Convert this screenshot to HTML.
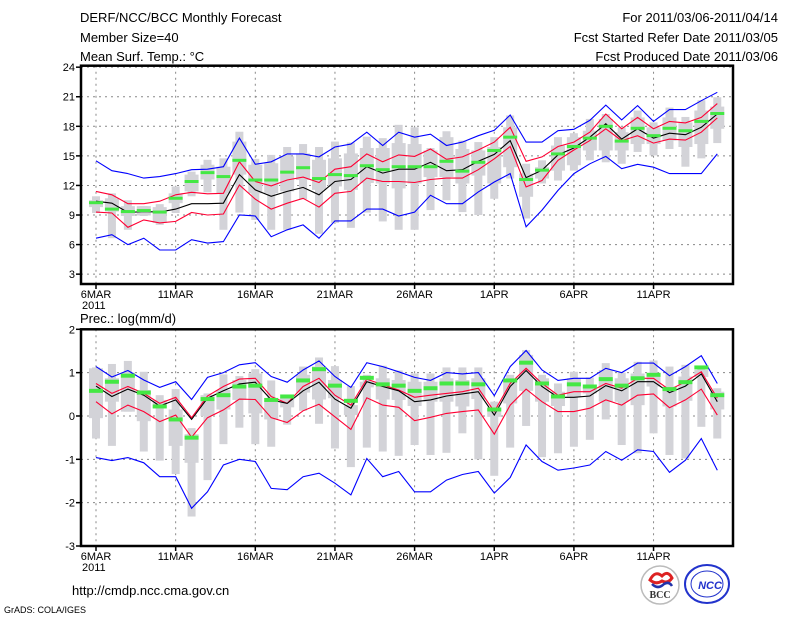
<!DOCTYPE html>
<html><head><meta charset="utf-8">
<style>
html,body{margin:0;padding:0;background:#fff;}
body{width:800px;height:618px;overflow:hidden;position:relative;font-family:"Liberation Mono","DejaVu Sans Mono",monospace;}
svg{position:absolute;left:0;top:0;}
</style></head>
<body>
<svg id="chart" width="800" height="618" viewBox="0 0 800 618">
  <g font-family="Liberation Sans, sans-serif" font-size="13" fill="#000">
    <text x="80" y="22">DERF/NCC/BCC Monthly Forecast</text>
    <text x="80" y="42">Member Size=40</text>
    <text x="80" y="61">Mean Surf. Temp.: °C</text>
    <text x="778" y="22" text-anchor="end">For 2011/03/06-2011/04/14</text>
    <text x="778" y="42" text-anchor="end">Fcst Started Refer Date 2011/03/05</text>
    <text x="778" y="61" text-anchor="end">Fcst Produced Date 2011/03/06</text>
    <text x="80" y="323">Prec.: log(mm/d)</text>
    <text x="72" y="595">http://cmdp.ncc.cma.gov.cn</text>
    <text x="4" y="613" font-size="9">GrADS: COLA/IGES</text>
  </g>
  <g id="temp-panel"></g>
  <g id="prec-panel"></g>
  <g>
    <circle cx="660" cy="585" r="19" fill="#fff" stroke="#bbb" stroke-width="1.5"/>
    <path d="M650 580 q5 -10 12 -4 q6 -6 10 2 q-4 6 -10 3 q-6 4 -12 -1z" fill="none" stroke="#d22" stroke-width="3"/>
    <path d="M652 584 q6 6 12 0 q5 -3 8 2" fill="none" stroke="#23a" stroke-width="2.5"/>
    <text x="660" y="598" font-family="Liberation Serif, serif" font-size="10" font-weight="bold" fill="#333" text-anchor="middle">BCC</text>
  </g>
  <g>
    <ellipse cx="707" cy="584" rx="22" ry="19" fill="#fff" stroke="#23c" stroke-width="2"/>
    <ellipse cx="707" cy="584" rx="16" ry="13" fill="none" stroke="#23c" stroke-width="1"/>
    <text x="710" y="589" font-family="Liberation Sans, sans-serif" font-size="11" font-style="italic" font-weight="bold" fill="#23c" text-anchor="middle">NCC</text>
  </g>
</svg>
<script>
// ---- Temperature data (°C), 40 days 6MAR..14APR ----
const tBlueHi = [14.5,13.5,13.2,12.75,12.9,13.2,13.6,13.65,13.9,16.8,14.15,14.4,15.2,15.2,14.9,15.9,16.2,17.4,16.05,17.4,16.9,17.2,16.05,16.4,17.05,17.6,19.15,16.4,16.4,17.55,17.7,18.6,20.15,18.65,20.1,18.5,19.7,19.7,20.6,21.45];
const tBlueLo = [6.65,7.0,6.0,6.65,5.45,5.45,6.5,6.15,6.3,9.0,8.9,6.8,7.5,8.0,6.65,8.4,8.4,9.6,9.6,8.9,9.3,11.0,10.15,10.15,11.35,12.35,13.2,7.8,9.5,11.5,13.2,14.2,14.95,13.7,14.15,13.85,13.2,13.2,13.2,15.2];
const tRedHi = [11.4,11.05,10.15,10.15,10.4,11.05,11.3,11.15,11.2,14.4,12.4,11.95,12.55,12.85,12.3,13.65,13.9,15.2,14.4,15.1,14.95,15.7,14.65,14.9,15.6,16.4,17.9,14.45,14.9,15.95,16.4,17.4,19.25,17.75,18.9,17.75,18.5,18.35,18.9,20.3];
const tRedLo = [9.3,9.2,7.75,8.5,8.2,8.35,9.25,9.0,9.1,12.05,10.6,9.6,10.2,10.7,9.8,11.2,11.4,12.75,12.4,12.4,12.3,12.6,12.75,12.75,13.6,14.7,15.95,11.85,12.5,14.55,15.6,16.55,17.75,16.55,17.05,16.3,16.7,16.6,17.4,18.85];
const tMean = [10.4,10.2,9.25,9.35,9.3,9.6,10.15,10.15,10.2,13.1,11.55,10.9,11.4,11.8,11.05,12.4,12.6,13.9,13.25,13.65,13.65,14.35,13.5,13.6,14.45,15.15,16.55,12.8,13.55,15.1,15.8,16.9,18.25,16.7,17.75,16.8,17.3,17.15,17.9,19.25];
const tMedian = [10.25,9.6,9.35,9.45,9.3,10.7,12.4,13.3,12.9,14.55,12.55,12.55,13.35,13.8,12.7,13.1,13.0,14.0,13.6,13.9,13.9,13.9,14.45,13.45,14.35,15.55,16.9,12.6,13.55,15.2,15.95,16.8,18.0,16.5,17.8,17.05,17.8,17.55,18.5,19.3];
const tMin = [9.2,6.65,7.5,8.9,8.0,9.2,10.9,11.3,7.5,9.25,8.5,7.5,7.5,10.6,7.1,8.2,7.7,9.25,8.35,7.5,7.5,9.5,10.5,9.3,9.0,10.65,12.7,8.65,12.2,12.5,13.5,14.55,14.35,14.2,15.4,15.05,15.7,13.9,14.75,16.3];
const tQ1 = [9.8,9.35,8.9,8.95,8.2,10.2,11.4,12.6,11.2,13.1,11.2,11.2,11.4,12.55,11.55,11.9,11.55,12.25,12.2,11.7,12.2,12.85,12.85,12.2,13.0,12.2,13.85,10.85,12.7,13.5,14.05,15.55,15.55,15.55,16.2,16.2,16.55,15.9,16.2,17.75];
const tQ3 = [10.5,10.7,9.9,9.9,9.8,11.2,13.1,14.1,13.9,16.45,14.1,14.25,14.95,15.25,14.6,14.75,15.25,15.8,15.8,16.3,16.2,15.55,16.9,15.7,15.55,15.9,17.9,13.2,13.85,16.05,16.9,17.55,18.75,17.4,18.9,17.9,18.9,18.4,19.6,20.0];
const tMax = [10.9,11.2,10.5,9.9,10.1,11.9,13.4,14.6,14.75,17.45,14.7,15.1,15.9,16.2,15.9,16.45,16.35,16.95,16.8,18.15,17.9,15.8,17.5,16.55,16.4,16.9,19.1,14.2,14.55,16.9,17.3,18.75,19.25,17.9,19.6,18.4,19.9,18.95,20.65,20.95];
const tTicks = [3,6,9,12,15,18,21,24];

// ---- Precipitation data log(mm/d) ----
const pBlueHi = [1.14,0.9,1.05,0.83,0.66,0.79,0.38,0.89,1.0,1.18,1.23,0.91,0.78,1.06,1.27,0.91,0.66,1.23,1.14,1.02,0.89,0.82,1.0,0.97,1.0,0.47,1.14,1.51,1.06,0.82,0.87,0.87,1.1,1.0,1.22,1.22,0.93,1.14,1.39,0.75];
const pBlueLo = [-0.96,-1.03,-0.96,-1.08,-1.4,-1.4,-2.13,-1.75,-1.13,-1.0,-1.05,-1.67,-1.7,-1.4,-1.32,-1.55,-1.82,-0.98,-1.4,-1.28,-1.75,-1.75,-1.48,-1.35,-1.28,-1.78,-1.42,-0.67,-1.05,-1.25,-1.2,-1.13,-0.82,-1.02,-0.78,-0.82,-1.3,-1.02,-0.52,-1.25];
const pRedHi = [0.75,0.52,0.68,0.52,0.29,0.43,-0.04,0.46,0.68,0.85,0.87,0.45,0.29,0.68,0.87,0.48,0.25,0.85,0.72,0.6,0.43,0.48,0.52,0.56,0.64,0.1,0.75,1.1,0.75,0.48,0.56,0.56,0.75,0.64,0.87,0.87,0.6,0.79,1.02,0.41];
const pRedLo = [0.33,0.05,0.25,0.1,-0.13,0.02,-0.49,-0.04,0.14,0.39,0.38,-0.04,-0.15,0.12,0.27,-0.02,-0.31,0.42,0.25,0.2,-0.11,-0.03,0.06,0.1,0.14,-0.42,0.25,0.62,0.33,0.1,0.1,0.18,0.37,0.25,0.48,0.51,0.19,0.37,0.62,0.02];
const pMean = [0.69,0.45,0.62,0.48,0.23,0.37,-0.08,0.41,0.58,0.74,0.78,0.37,0.29,0.58,0.78,0.39,0.18,0.79,0.68,0.58,0.33,0.37,0.46,0.51,0.56,0.02,0.68,1.05,0.68,0.43,0.43,0.46,0.7,0.58,0.79,0.79,0.54,0.69,0.97,0.33];
const pMedian = [0.58,0.79,0.93,0.54,0.22,-0.08,-0.5,0.39,0.48,0.68,0.7,0.37,0.45,0.82,1.08,0.7,0.35,0.88,0.73,0.7,0.58,0.64,0.75,0.75,0.73,0.15,0.82,1.23,0.75,0.45,0.73,0.68,0.85,0.7,0.87,0.95,0.62,0.78,1.12,0.48];
const pMin = [-0.52,-0.69,0.1,-0.82,-1.03,-1.34,-2.32,-1.48,-0.65,-0.27,-0.65,-0.71,-0.2,0.12,-0.18,-0.75,-1.18,-0.73,-0.82,-0.92,-0.67,-0.9,-0.85,-0.4,-1.0,-1.38,-0.73,-0.23,-0.95,-0.86,-0.71,-0.55,-0.08,-0.67,-0.86,-0.4,-0.9,-0.98,-0.25,-0.52];
const pQ1 = [-0.05,0.33,0.1,-0.12,0.18,-0.69,-1.08,0.0,0.15,0.37,0.06,-0.08,0.2,0.54,0.38,0.41,0.02,0.66,0.38,0.37,0.23,0.33,0.33,0.22,0.39,-0.02,0.29,0.58,0.33,0.23,0.45,0.52,0.33,0.33,0.25,0.68,0.22,0.35,0.9,0.15];
const pQ3 = [1.1,0.87,1.0,0.6,0.37,0.15,-0.42,0.48,0.6,0.83,0.98,0.37,0.43,0.95,1.14,0.83,0.25,0.79,0.87,0.83,0.79,0.79,0.87,0.83,0.87,0.18,0.83,1.41,0.87,0.56,0.87,0.72,1.06,0.87,0.98,0.91,0.68,0.91,1.06,0.56];
const pMax = [1.12,1.2,1.27,1.02,0.48,0.62,-0.28,0.52,0.96,0.92,1.08,0.82,0.45,1.14,1.35,1.15,0.69,0.95,1.16,1.05,0.98,0.98,1.12,1.12,1.12,0.33,0.95,1.52,0.95,0.75,1.02,0.89,1.22,1.0,1.25,1.28,1.14,1.18,1.14,0.64];
const pTicks = [-3,-2,-1,0,1,2];

const xLabels = ["6MAR","11MAR","16MAR","21MAR","26MAR","1APR","6APR","11APR"];

const NS = "http://www.w3.org/2000/svg";
function mk(parent, tag, attrs){ const e=document.createElementNS(NS,tag); for(const k in attrs) e.setAttribute(k,attrs[k]); parent.appendChild(e); return e; }
function xDay(i){ return 96 + i*15.93; }

function drawPanel(g, cfg){
  const yv = v => cfg.yTop + (cfg.vmax - v) * (cfg.yBot - cfg.yTop) / (cfg.vmax - cfg.vmin);
  // grid
  cfg.ticks.forEach(t=>{
    if(t>cfg.vmin && t<cfg.vmax){
      const l=mk(g,'line',{x1:81,x2:733,y1:yv(t),y2:yv(t),stroke:'#888','stroke-width':1,'stroke-dasharray':'2,4'});
      
      
    }
    const tk=mk(g,'line',{x1:76,x2:81,y1:yv(t),y2:yv(t),stroke:'#000','stroke-width':1.5});
    
    
    const tx=mk(g,'text',{x:75,y:yv(t)+4,'text-anchor':'end','font-family':'Liberation Sans, sans-serif','font-size':11});
    tx.textContent=t;
    
    
  });
  xLabels.forEach((lab,k)=>{
    const x=xDay(k*5);
    const l=mk(g,'line',{x1:x,x2:x,y1:cfg.yTop,y2:cfg.yBot,stroke:'#888','stroke-width':1,'stroke-dasharray':'2,4'});
    
    
    const tk=mk(g,'line',{x1:x,x2:x,y1:cfg.yBot,y2:cfg.yBot+5,stroke:'#000','stroke-width':1.5});
    
    
    const tx=mk(g,'text',{x:x,y:cfg.yBot+14,'text-anchor':'middle','font-family':'Liberation Sans, sans-serif','font-size':11});
    tx.textContent=lab;
    
    
  });
  const yr=mk(g,'text',{x:82,y:cfg.yBot+25,'font-family':'Liberation Sans, sans-serif','font-size':11});
  yr.textContent='2011';
  
  
  // bars
  cfg.min.forEach((_,i)=>{
    const x=xDay(i);
    const o=mk(g,'rect',{x:x-4,width:8,y:yv(cfg.max[i]),height:Math.max(1,yv(cfg.min[i])-yv(cfg.max[i])),fill:'#d3d3d8'});
    
    
    const b=mk(g,'rect',{x:x-7,width:14,y:yv(cfg.q3[i]),height:Math.max(1,yv(cfg.q1[i])-yv(cfg.q3[i])),fill:'#d3d3d8'});
    
    
  });
  // lines
  const series=[[cfg.blueHi,'#0000ff','upper-bound-line'],[cfg.blueLo,'#0000ff','lower-bound-line'],[cfg.redHi,'#ff0033','mean-plus-sd-line'],[cfg.redLo,'#ff0033','mean-minus-sd-line'],[cfg.mean,'#000','ensemble-mean-line']];
  series.forEach(s=>{
    const pts=s[0].map((v,i)=>xDay(i).toFixed(1)+','+yv(v).toFixed(1)).join(' ');
    const p=mk(g,'polyline',{points:pts,fill:'none',stroke:s[1],'stroke-width':1.1});
    
    
  });
  cfg.median.forEach((v,i)=>{
    const r=mk(g,'rect',{x:xDay(i)-7,width:14,y:yv(v)-cfg.gh/2,height:cfg.gh,fill:'#44e844'});
    
    
  });
  const f=mk(g,'rect',{x:81,y:cfg.yTop,width:652,height:cfg.yBot-cfg.yTop,fill:'none',stroke:'#000','stroke-width':2.5});
  
  
}

drawPanel(document.getElementById('temp-panel'),{yTop:65.7,yBot:284,vmin:2,vmax:24.15,ticks:tTicks,
  blueHi:tBlueHi,blueLo:tBlueLo,redHi:tRedHi,redLo:tRedLo,mean:tMean,median:tMedian,min:tMin,q1:tQ1,q3:tQ3,max:tMax,gh:3});
drawPanel(document.getElementById('prec-panel'),{yTop:329.3,yBot:546,vmin:-3,vmax:2,ticks:pTicks,
  blueHi:pBlueHi,blueLo:pBlueLo,redHi:pRedHi,redLo:pRedLo,mean:pMean,median:pMedian,min:pMin,q1:pQ1,q3:pQ3,max:pMax,gh:4});
</script>
</body></html>
